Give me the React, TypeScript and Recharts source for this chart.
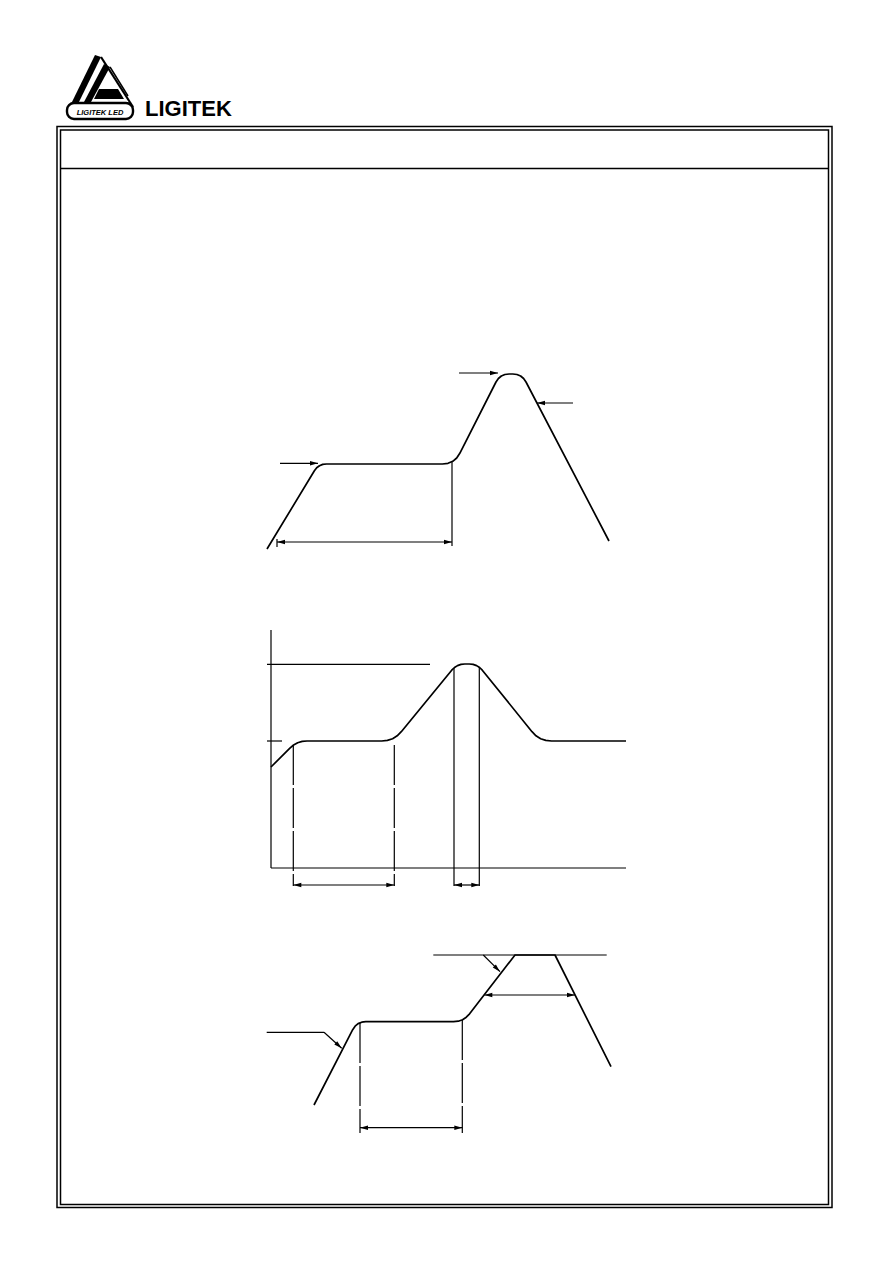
import React from "react";
import { LineChart, Line, XAxis, YAxis, ReferenceLine } from "recharts";

// ---------- Profile 1 (top) : time vs temperature units ----------
const p1Time = [17, 64.4, 66.7, 69.5, 72.7, 76.5, 192.4, 198, 202.75, 206.7, 209.8, 246, 248.4, 251.35, 254.9, 259.1, 262.8, 266.95, 270.6, 273.6, 276, 359];
const p1Temp = [11, 89.2, 92.2, 94.3, 95.6, 96, 96, 96.67, 98.7, 102, 106.7, 178, 181.5, 184, 185.5, 186, 186, 185.5, 184, 181.5, 178, 19];

// ---------- Profile 2 (middle) ----------
const p2Time = [21, 39.9, 43.6, 47.7, 52.2, 57, 131.7, 137.4, 142.6, 147.2, 151.3, 201.7, 204.5, 207.5, 211, 214.8, 219.3, 223.1, 226.6, 229.6, 232.3, 282, 286, 290.65, 295.8, 301.5, 376];
const p2Temp = [123, 141.9, 145, 147.2, 148.6, 149, 149, 149.6, 151.3, 154.2, 158.3, 219.8, 222.5, 224.4, 225.6, 226, 226, 225.6, 224.4, 222.5, 219.8, 158.3, 154.2, 151.3, 149.6, 149, 149];

// ---------- Profile 3 (bottom) ----------
const p3Time = [64, 102.7, 105.1, 108.1, 111.7, 115.85, 203.5, 208.3, 212.55, 216.3, 219.6, 265, 305, 361];
const p3Temp = [35, 110.3, 113.8, 116.35, 117.8, 118.3, 118.3, 118.8, 120.3, 122.8, 126.2, 185, 185, 73.3];

const toRows = (xs: number[], ys: number[]) => xs.map((t, i) => ({ t, v: ys[i] }));

const S = "#000";

const arrowLine =
  (startHead: boolean, endHead: boolean, width = 1.2, dash?: string) =>
  (p: any) => {
    const { x1, y1, x2, y2 } = p;
    const dx = x2 - x1;
    const dy = y2 - y1;
    const len = Math.hypot(dx, dy) || 1;
    const ux = dx / len;
    const uy = dy / len;
    const L = 8;
    const W = 2.2;
    const head = (tx: number, ty: number, ax: number, ay: number) =>
      `${tx},${ty} ${tx - ax * L - ay * W},${ty - ay * L + ax * W} ${tx - ax * L + ay * W},${ty - ay * L - ax * W}`;
    return (
      <g>
        <line x1={x1} y1={y1} x2={x2} y2={y2} stroke={S} strokeWidth={width} strokeDasharray={dash} />
        {endHead && <polygon points={head(x2, y2, ux, uy)} fill={S} />}
        {startHead && <polygon points={head(x1, y1, -ux, -uy)} fill={S} />}
      </g>
    );
  };

const seg = (
  key: string,
  a: [number, number],
  b: [number, number],
  s = false,
  e = false,
  w = 1.2,
  dash?: string
) => (
  <ReferenceLine
    key={key}
    segment={[
      { x: a[0], y: a[1] },
      { x: b[0], y: b[1] },
    ]}
    ifOverflow="visible"
    shape={arrowLine(s, e, w, dash)}
  />
);

const Axes = ({ w, h }: { w: number; h: number }) => [
  <XAxis key="x" type="number" dataKey="t" domain={[0, w]} hide allowDataOverflow />,
  <YAxis key="y" type="number" dataKey="v" domain={[0, h]} hide allowDataOverflow width={0} />,
];

const M = { top: 0, right: 0, bottom: 0, left: 0 };

const curve = (
  <Line
    type="linear"
    dataKey="v"
    stroke={S}
    strokeWidth={1.7}
    strokeLinejoin="round"
    dot={false}
    activeDot={false}
    isAnimationActive={false}
  />
);

function Profile1() {
  return (
    <LineChart width={380} height={210} data={toRows(p1Time, p1Temp)} margin={M}>
      {Axes({ w: 380, h: 210 })}
      {curve}
      {seg("a1", [30, 96.7], [68, 96.7], false, true)}
      {seg("a2", [209, 187], [248, 187], false, true)}
      {seg("a3", [323, 157], [287, 157], false, true)}
      {seg("v1", [202, 98], [202, 14])}
      {seg("d1", [27, 18], [202, 18], true, true)}
      {seg("t1", [27, 21], [27, 13])}
    </LineChart>
  );
}

function Profile2() {
  return (
    <LineChart width={390} height={270} data={toRows(p2Time, p2Temp)} margin={M}>
      {Axes({ w: 390, h: 270 })}
      {seg("ya", [21, 260], [21, 22])}
      {seg("xa", [21, 22], [376, 22])}
      {seg("hp", [17, 225.7], [180, 225.7])}
      {seg("hs", [17, 149], [32, 149])}
      {seg("v1", [43.3, 145], [43.3, 4], false, false, 1.2, "40 3")}
      {seg("v2", [144.3, 145], [144.3, 4], false, false, 1.2, "40 3")}
      {seg("v3", [204, 222], [204, 4])}
      {seg("v4", [229.3, 223], [229.3, 4])}
      {seg("d1", [43.3, 5], [144.3, 5], true, true)}
      {seg("d2", [204, 5], [229.3, 5], true, true)}
      {curve}
    </LineChart>
  );
}

function Profile3() {
  return (
    <LineChart width={380} height={200} data={toRows(p3Time, p3Temp)} margin={M}>
      {Axes({ w: 380, h: 200 })}
      {curve}
      {seg("l1", [16.7, 107.7], [74, 107.7])}
      {seg("l2", [74, 107.7], [91.7, 91.7], false, true)}
      {seg("top", [183.3, 185], [356.7, 185])}
      {seg("l3", [233.3, 185], [250, 168.3], false, true)}
      {seg("v1", [110, 117], [110, 7], false, false, 1.2, "40 3")}
      {seg("v2", [212.3, 120], [212.3, 7], false, false, 1.2, "40 3")}
      {seg("d1", [110, 12.3], [212.3, 12.3], true, true)}
      {seg("d2", [234.3, 145], [325, 145], true, true)}
    </LineChart>
  );
}

function Frame() {
  return (
    <svg width={892} height={1261} style={{ position: "absolute", left: 0, top: 0 }}>
      {/* logo */}
      <g>
        <polygon points="95,55 101,57 77,106 70,106" fill={S} />
        <polygon points="104,64 110,67 91,102 84,102" fill={S} />
        <polyline points="101,57 133,107" fill="none" stroke={S} strokeWidth={2.2} />
        <polyline points="110,67 128,96" fill="none" stroke={S} strokeWidth={1.5} />
        <polygon points="99,89 118,89 124,99 94,99" fill={S} />
        <rect x={67} y={103} width={66} height={16} rx={7} fill="#fff" stroke={S} strokeWidth={2.4} />
        <text
          x={100}
          y={114.5}
          textAnchor="middle"
          fontFamily="Liberation Sans, Arial, sans-serif"
          fontSize={7.5}
          fontStyle="italic"
          fontWeight="bold"
          fill={S}
        >
          LIGITEK LED
        </text>
      </g>
      <text x={145} y={116} fontFamily="Liberation Sans, Arial, sans-serif" fontSize={22} fontWeight="bold" fill={S}>
        LIGITEK
      </text>
      {/* page frame */}
      <rect x={57} y={126.5} width={775} height={1081} fill="none" stroke={S} strokeWidth={1.5} />
      <rect x={60.5} y={130} width={768} height={1074.5} fill="none" stroke={S} strokeWidth={1.5} />
      <line x1={60.5} y1={168.5} x2={828.5} y2={168.5} stroke={S} strokeWidth={1.5} />
    </svg>
  );
}

export default function App() {
  return (
    <div style={{ position: "absolute", left: 0, top: 0, width: 892, height: 1261, background: "#fff" }}>
      <Frame />
      <div style={{ position: "absolute", left: 250, top: 350 }}>
        <Profile1 />
      </div>
      <div style={{ position: "absolute", left: 250, top: 620 }}>
        <Profile2 />
      </div>
      <div style={{ position: "absolute", left: 250, top: 940 }}>
        <Profile3 />
      </div>
    </div>
  );
}
